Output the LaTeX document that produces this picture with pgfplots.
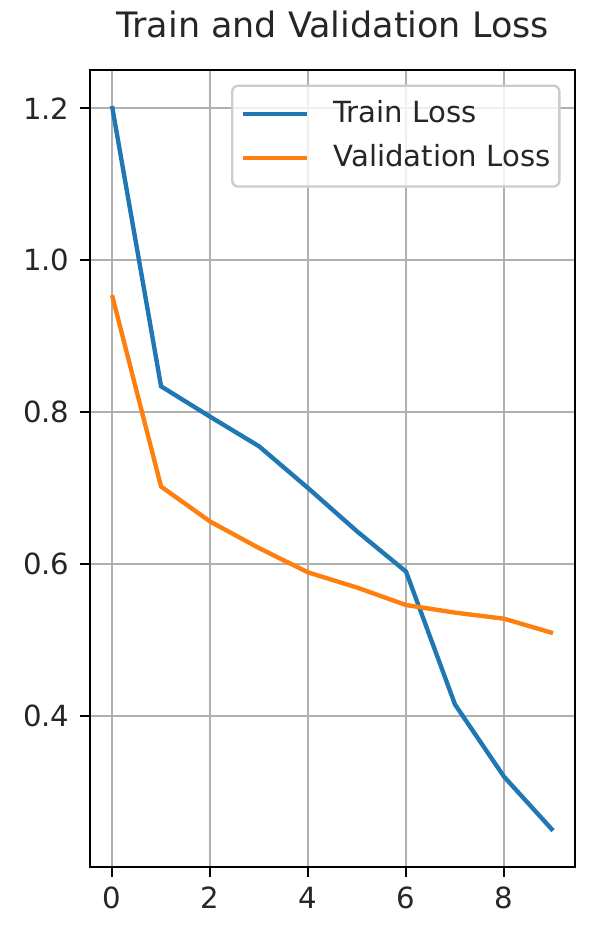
\documentclass[border=0pt]{standalone}
\usepackage{fontspec}
\setmainfont{DejaVu Sans}
\usepackage{pgfplots}
\pgfplotsset{compat=1.18}
\definecolor{mplBlue}{HTML}{1F77B4}
\definecolor{mplOrange}{HTML}{FF7F0E}
\definecolor{mplGrid}{HTML}{B0B0B0}

\begin{document}
\begin{tikzpicture}
\begin{axis}[
  scale only axis,
  width=166.4pt, height=273.3pt,
  xmin=-0.45, xmax=9.45,
  ymin=0.2015, ymax=1.2505,
  xtick={0,2,4,6,8},
  ytick={0.4,0.6,0.8,1.0,1.2},
  /pgf/number format/assume math mode=true,
  yticklabel style={/pgf/number format/.cd,fixed,fixed zerofill,precision=1},
  tick label style={font=\fontsize{10}{12}\selectfont, text=black!85},
  tick pos=left,
  tick align=outside,
  major tick length=3.5pt,
  tick style={line width=0.8pt, black},
  axis line style={line width=0.8pt},
  grid=major,
  major grid style={line width=0.8pt, draw=mplGrid},
  title={Train and Validation Loss},
  title style={at={(0.5,1)}, anchor=base, yshift=5.1pt, font=\fontsize{12}{14}\selectfont, text=black!85},
  legend style={at={(rel axis cs:1,1)}, anchor=north east, xshift=-5pt, yshift=-5pt,
    draw=black!20, line width=0.8pt, rounded corners=2pt, fill=white, fill opacity=0.8, text opacity=1,
    font=\fontsize{10}{12}\selectfont, inner xsep=3pt, inner ysep=5pt, row sep=5.6pt,
    nodes={inner sep=0pt, text height=7.5pt, text depth=2pt, text=black!85},
    /tikz/every odd column/.append style={column sep=8.2pt}},
  legend cell align={left},
  legend image code/.code={\draw[#1, line width=1.5pt] (0pt,0pt) -- (22pt,0pt);},
]
\addplot[mplBlue, line width=1.5pt] coordinates {
  (0,1.203) (1,0.834) (2,0.794) (3,0.755) (4,0.700) (5,0.643) (6,0.590) (7,0.415) (8,0.320) (9,0.249)};
\addlegendentry{Train Loss}
\addplot[mplOrange, line width=1.5pt] coordinates {
  (0,0.954) (1,0.702) (2,0.656) (3,0.621) (4,0.589) (5,0.569) (6,0.546) (7,0.536) (8,0.528) (9,0.509)};
\addlegendentry{Validation Loss}
\end{axis}
\pgfresetboundingbox
\path[use as bounding box] (-30.87pt,-22.74pt) rectangle (171.8pt,297.3pt);
\end{tikzpicture}
\end{document}
